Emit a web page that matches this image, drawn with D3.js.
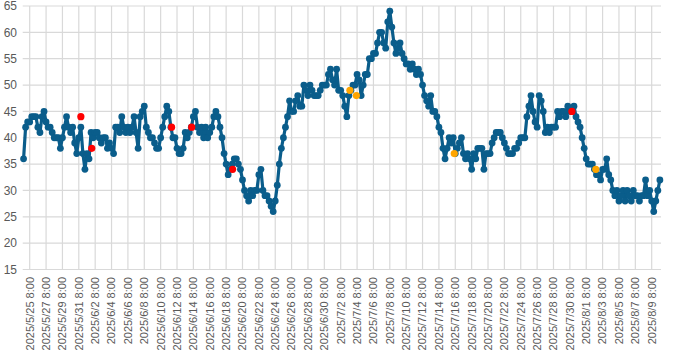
<!DOCTYPE html>
<html><head><meta charset="utf-8">
<script src="https://cdn.jsdelivr.net/npm/d3@7"></script>
<style>html,body{margin:0;padding:0;background:#fff;} svg{display:block;font-family:"Liberation Sans",Arial,sans-serif;}</style>
</head><body><svg id="chart" width="700" height="353"></svg>
<script>
// ---- data ----
const startTime = "2025/5/24 14:00";   // first reading
const stepHours = 6;                    // reading interval
const values = [
  36,42,43,43, 44,44,44,42, 41,44,45,43, 42,42,41,40, 40,40,38,40,
  42,44,42,41, 42,39,37,40, 42,37,34,37, 36,41,40,41, 41,40,39,40,
  40,38,39,38, 37,42,42,41, 44,42,41,42, 41,42,44,41, 38,44,45,46,
  42,41,40,40, 39,38,38,40, 42,44,46,45, 42,40,40,38, 37,37,38,41,
  40,41,42,44, 45,42,41,42, 40,42,40,41, 42,44,45,44, 42,40,37,35,
  33,34,35,36, 36,35,34,32, 30,29,28,30, 29,30,30,33, 34,30,29,29,
  28,27,26,28, 31,35,38,40, 42,44,47,45, 45,47,48,46, 46,50,49,48,
  50,49,48,48, 48,49,50,50, 50,52,53,51, 50,53,49,49, 48,46,44,48,
  49,50,50,52, 51,48,50,52, 52,55,55,56, 56,58,60,60, 58,57,62,64,
  61,58,56,57, 58,56,55,54, 54,53,54,53, 52,53,52,50, 48,47,46,48,
  45,45,44,42, 41,38,36,38, 40,39,40,37, 38,39,40,37, 36,37,36,34,
  37,36,38,38, 38,34,37,37, 37,39,40,41, 41,41,40,39, 38,37,37,37,
  38,38,39,40, 40,40,44,46, 48,45,43,42, 48,47,45,41, 42,41,42,42,
  42,45,44,45, 45,44,46,45, 45,46,44,43, 42,40,38,36, 35,35,35,34,
  33,33,32,34, 34,36,33,32, 30,29,30,28, 29,30,28,30, 29,28,30,29,
  29,28,29,29, 32,29,30,28, 26,28,30,32
];
const redTimes = ["2025/5/31 14:00","2025/6/1 22:00","2025/6/11 16:00","2025/6/14 3:00","2025/6/19 3:00","2025/7/30 14:00"];
const redValues = [44,38,42,42,34,45];
const orangeTimes = ["2025/7/3 11:00","2025/7/4 6:00","2025/7/16 5:00","2025/8/2 12:00"];
const orangeValues = [49,48,37,34];
const xTickLabels = [
  "2025/5/25 8:00","2025/5/27 8:00","2025/5/29 8:00","2025/5/31 8:00",
  "2025/6/2 8:00","2025/6/4 8:00","2025/6/6 8:00","2025/6/8 8:00","2025/6/10 8:00",
  "2025/6/12 8:00","2025/6/14 8:00","2025/6/16 8:00","2025/6/18 8:00","2025/6/20 8:00",
  "2025/6/22 8:00","2025/6/24 8:00","2025/6/26 8:00","2025/6/28 8:00","2025/6/30 8:00",
  "2025/7/2 8:00","2025/7/4 8:00","2025/7/6 8:00","2025/7/8 8:00","2025/7/10 8:00",
  "2025/7/12 8:00","2025/7/14 8:00","2025/7/16 8:00","2025/7/18 8:00","2025/7/20 8:00",
  "2025/7/22 8:00","2025/7/24 8:00","2025/7/26 8:00","2025/7/28 8:00","2025/7/30 8:00",
  "2025/8/1 8:00","2025/8/3 8:00","2025/8/5 8:00","2025/8/7 8:00","2025/8/9 8:00"
];
const yTicks = [15,20,25,30,35,40,45,50,55,60,65];

// ---- drawing ----
const parse = d3.utcParse("%Y/%m/%d %H:%M");
const svg = d3.select("#chart");
const plotLeft = 22.7, plotRight = 661, plotTop = 6, plotBottom = 269.5;

const tickDates = xTickLabels.map(parse);
const x = d3.scaleUtc()
  .domain([tickDates[0], tickDates[tickDates.length - 1]])
  .range([29.7, 651.7]);
const y = d3.scaleLinear().domain([15, 65]).range([plotBottom, plotTop]);

const t0 = parse(startTime);
const data = values.map((v, i) => ({ t: d3.utcHour.offset(t0, i * stepHours), v }));

const grid = svg.append("g").attr("stroke", "#d9d9d9").attr("stroke-width", 1.2);
grid.selectAll("line.h").data(yTicks).join("line")
  .attr("x1", plotLeft).attr("x2", plotRight)
  .attr("y1", d => y(d)).attr("y2", d => y(d));
grid.selectAll("line.v").data(tickDates).join("line")
  .attr("x1", d => x(d)).attr("x2", d => x(d))
  .attr("y1", plotTop).attr("y2", plotBottom);

svg.append("g").selectAll("text").data(yTicks).join("text")
  .attr("x", 17).attr("y", d => y(d)).attr("dy", "0.35em")
  .attr("text-anchor", "end").attr("font-size", 12).attr("fill", "#595959")
  .text(d => d);

svg.append("g").selectAll("text").data(xTickLabels).join("text")
  .attr("transform", (d, i) => `translate(${x(tickDates[i])},277) rotate(-90)`)
  .attr("dy", "0.35em").attr("text-anchor", "end")
  .attr("font-size", 11).attr("fill", "#595959")
  .text(d => d);

const blue = "#0a5d8b";
svg.append("path").datum(data)
  .attr("fill", "none").attr("stroke", blue).attr("stroke-width", 3.2)
  .attr("stroke-linejoin", "round")
  .attr("d", d3.line().x(d => x(d.t)).y(d => y(d.v)));
svg.append("g").selectAll("circle").data(data).join("circle")
  .attr("cx", d => x(d.t)).attr("cy", d => y(d.v)).attr("r", 3.4).attr("fill", blue);

svg.append("g").selectAll("circle").data(redTimes).join("circle")
  .attr("cx", d => x(parse(d))).attr("cy", (d, i) => y(redValues[i]))
  .attr("r", 3.6).attr("fill", "#ff0000");
svg.append("g").selectAll("circle").data(orangeTimes).join("circle")
  .attr("cx", d => x(parse(d))).attr("cy", (d, i) => y(orangeValues[i]))
  .attr("r", 3.6).attr("fill", "#ffa500");
</script></body></html>
